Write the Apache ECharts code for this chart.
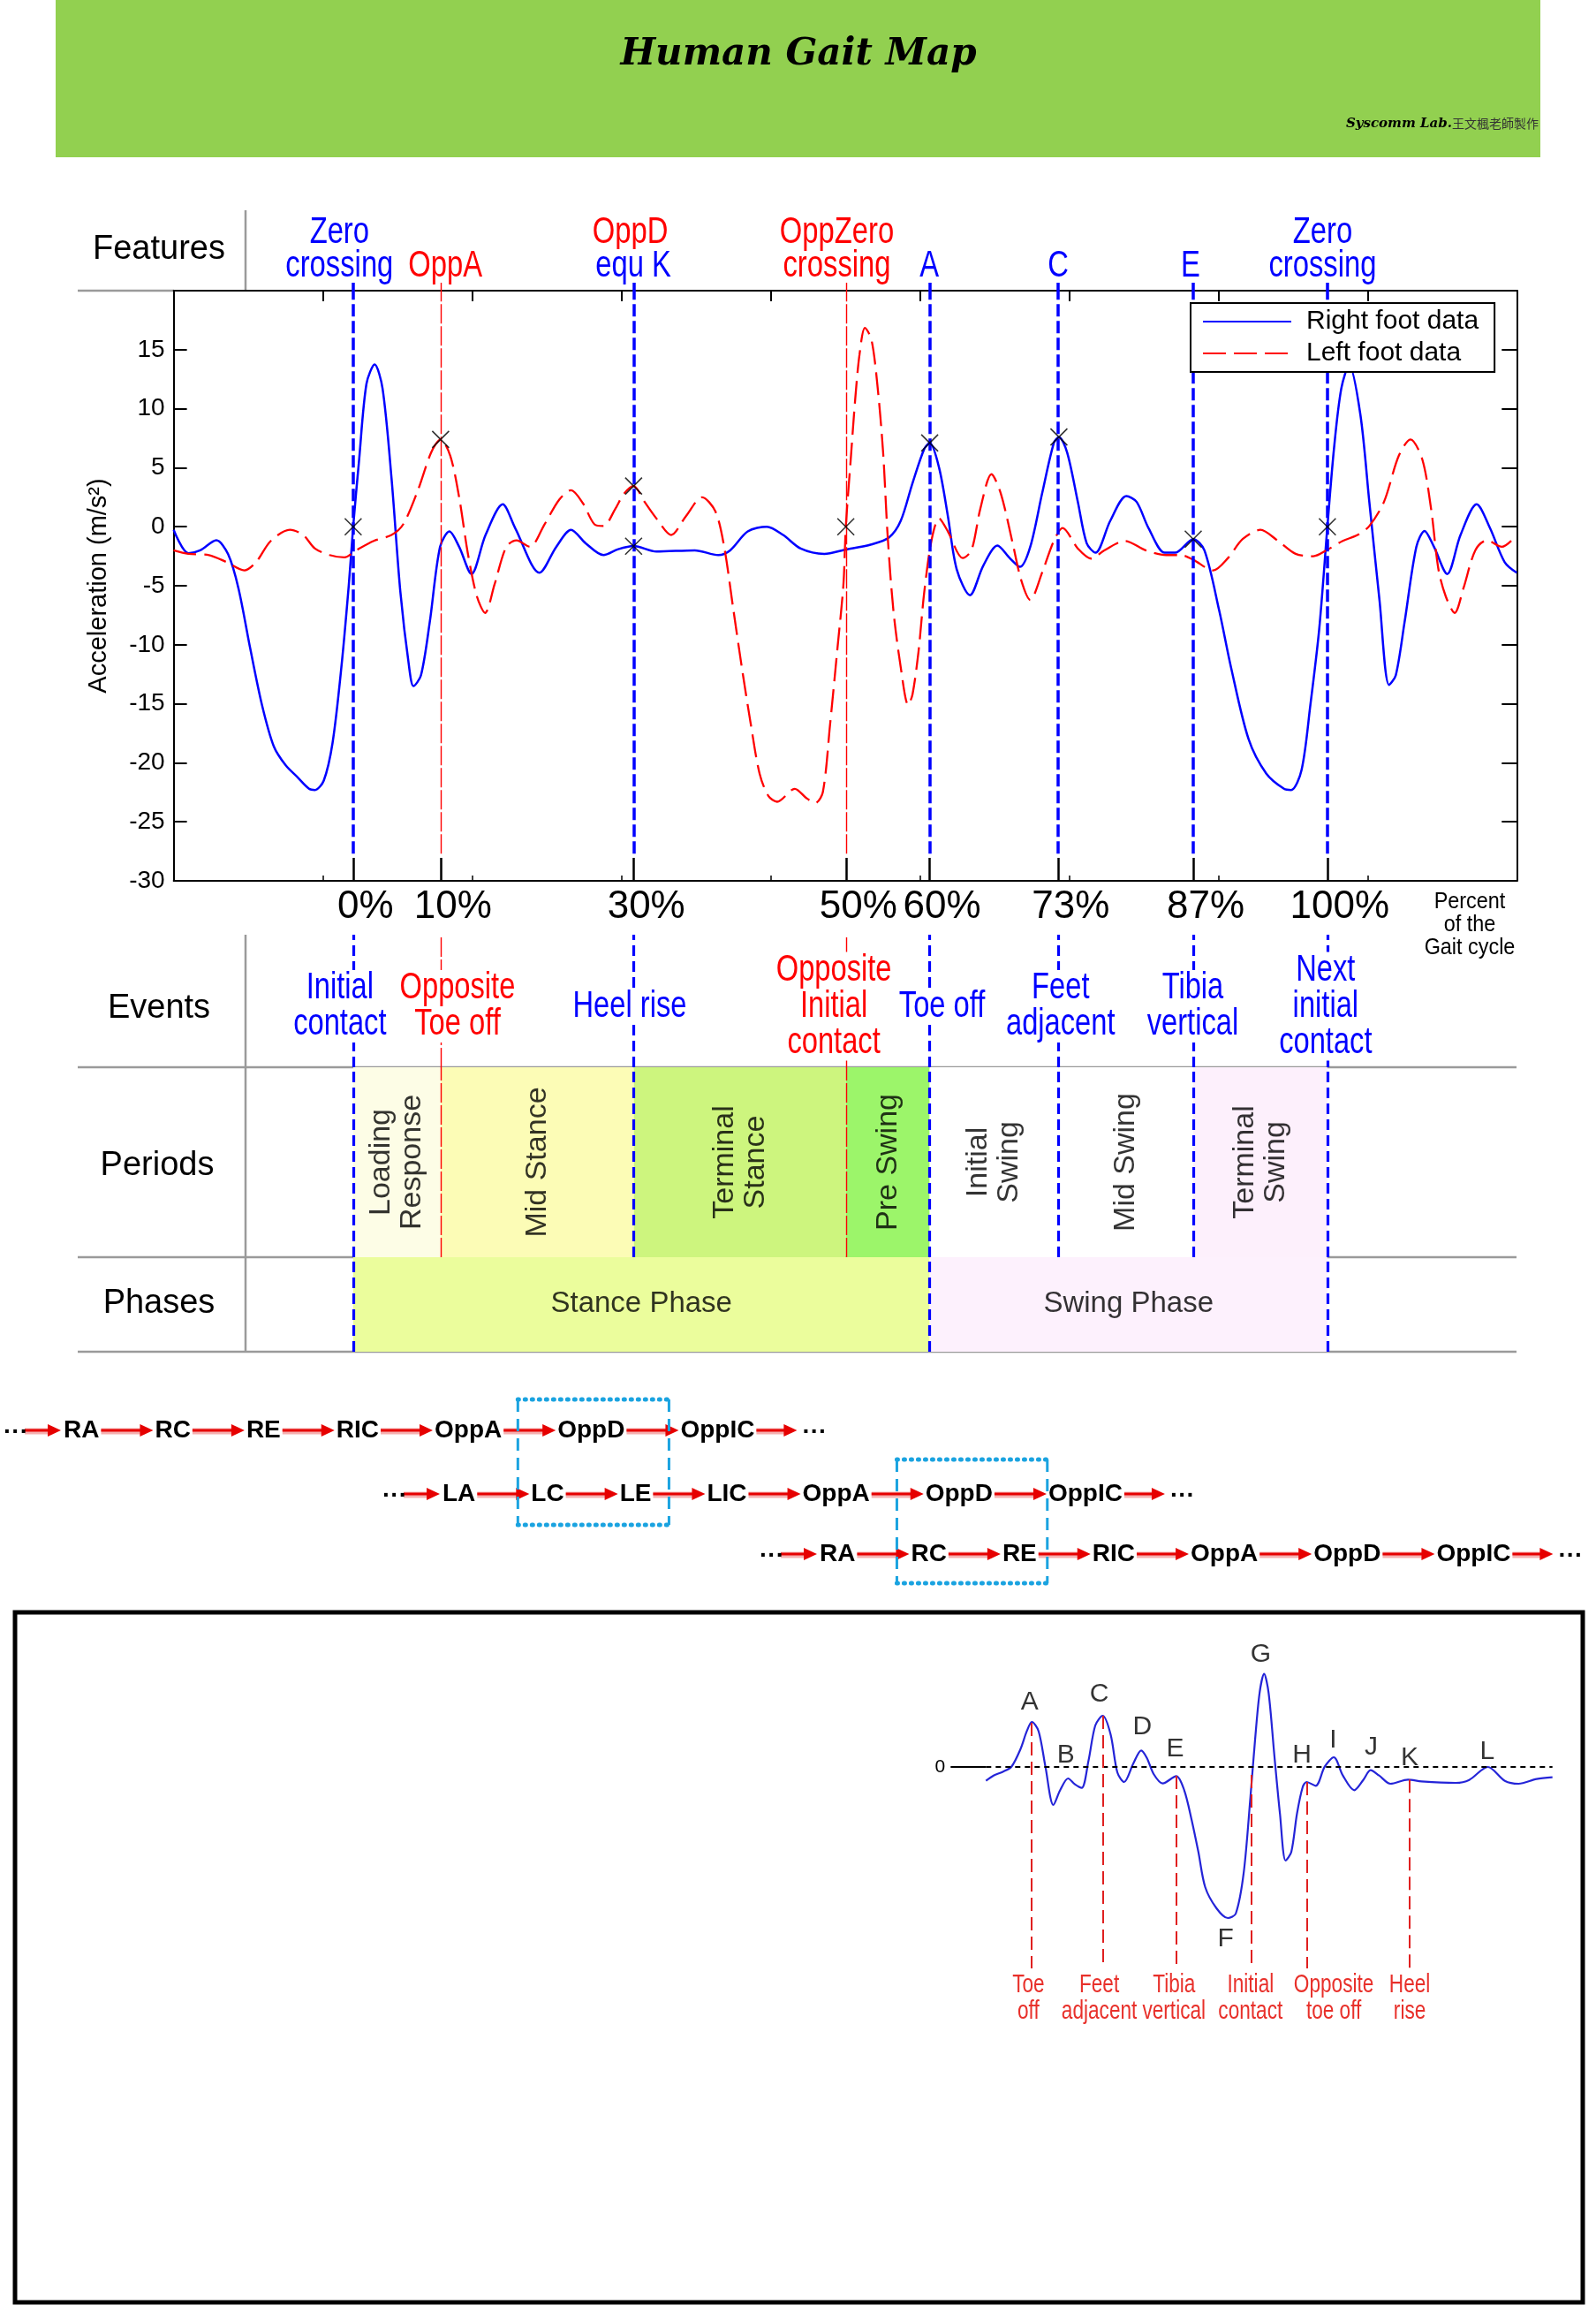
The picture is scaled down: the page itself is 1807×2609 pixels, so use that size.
<!DOCTYPE html>
<html><head><meta charset="utf-8">
<script src="https://cdn.jsdelivr.net/npm/echarts@6/dist/echarts.min.js"></script>
<style>html,body{margin:0;padding:0;background:#fff}#c{width:1807px;height:2609px}</style>
</head><body><div id="c"></div>
<script>
// ===================== DATA =====================
// Main plot: x = sample index (0..900), y = acceleration (m/s^2)
const rightFoot = [[0,-0.26],[9.9,-2.24],[17.8,-2.0],[28.6,-1.15],[36.5,-2.33],[43.4,-5.2],[51.3,-10.3],[59.2,-15.1],[67.1,-18.6],[75,-20.2],[82.8,-21.2],[90.7,-22.2],[94.7,-22.3],[100.6,-21.5],[106.5,-18.3],[112.4,-11.9],[117.4,-4.9],[120.3,0],[124.3,5.7],[129.2,12.1],[134.7,13.75],[140,11.7],[146,4.1],[151.9,-5.5],[157.8,-11.9],[160.7,-13.5],[165.7,-12.6],[171.6,-8.1],[178.5,-1.7],[184.8,-0.4],[191.3,-1.7],[199.6,-4.0],[209,-0.7],[220.5,1.9],[228.8,-0.1],[245.2,-3.9],[256.4,-1.7],[266.3,-0.26],[276.1,-1.4],[288,-2.4],[297.9,-1.9],[308.2,-1.63],[323.5,-2.1],[349.2,-2.0],[365,-2.4],[372.9,-2.0],[384.7,-0.4],[397.5,0],[408.4,-0.7],[420.2,-1.85],[436,-2.3],[449.8,-1.95],[467.5,-1.5],[479.4,-0.9],[487.2,0.5],[495.1,3.7],[503,6.6],[506.6,7.1],[512.9,5.0],[518.8,0.9],[524.7,-3.6],[533.6,-5.8],[542.5,-3.3],[552,-1.6],[560.2,-2.65],[567.1,-3.4],[574,-1.7],[581.9,2.8],[589.8,7.1],[593.2,7.6],[598.7,6.3],[605.9,2.1],[611.8,-1.4],[617.7,-2.2],[627.6,0.5],[638.4,2.6],[645.3,2.1],[653.2,-0.1],[664.1,-2.2],[671,-2.2],[683.2,-1.05],[690.7,-2.0],[700.6,-7.1],[708.5,-11.9],[720.3,-18.0],[732.1,-20.9],[744,-22.2],[748.9,-22.3],[755.8,-20.6],[761.7,-15.1],[767.6,-8.7],[773.1,0],[777.5,6.6],[782.4,11.7],[787.7,13.7],[795.2,9.5],[801.2,2.1],[808,-6.2],[814.4,-13.4],[818.9,-12.6],[824.8,-8.1],[832.7,-1.7],[838.2,-0.35],[844.5,-1.7],[853.4,-4.0],[862.3,-0.7],[873.1,1.9],[882,-0.1],[891.9,-3.0],[900,-3.9]];
const leftFoot = [[0,-2.0],[9.9,-2.3],[23.7,-2.4],[35.5,-3.0],[47.3,-3.7],[55.2,-3.0],[65.1,-1.2],[77.9,-0.26],[86.8,-0.7],[94.7,-1.85],[104.5,-2.4],[114.4,-2.6],[122.3,-2.0],[134.1,-1.2],[146,-0.7],[153.8,0.2],[163.7,3.1],[172.6,6.3],[178.9,7.4],[185.4,6.0],[191.3,2.5],[197.2,-2.3],[203.2,-5.9],[208.7,-7.3],[215,-4.9],[222.9,-1.7],[229.8,-1.15],[238.7,-1.7],[248.5,0.2],[258.4,2.3],[266.3,3.1],[274.2,2.0],[282,0.2],[288,0.06],[295.9,1.5],[301.8,2.8],[308.2,3.45],[315.6,2.1],[323.5,0.7],[333.4,-0.7],[343.3,0.9],[354.1,2.5],[363,1.3],[368.9,-1.7],[374.8,-6.8],[380.7,-11.9],[386.7,-16.7],[392.6,-20.9],[398.5,-22.8],[404.4,-23.3],[416.2,-22.2],[424.1,-23.0],[430,-23.4],[435,-22.5],[439.9,-16.7],[444.8,-10.3],[448.8,-4.9],[450.4,0],[453.7,5.7],[456.7,10.8],[459.6,14.6],[463.2,16.85],[467.5,15.9],[471.5,12.1],[475.4,6.3],[478.4,-0.7],[482.3,-7.1],[487.2,-11.9],[492.2,-15.1],[495.1,-14.2],[499.1,-10.6],[503,-5.5],[508,-1.05],[512.9,0.7],[518.8,-0.4],[528.7,-2.65],[534.6,-2.0],[540.5,1.5],[548,4.45],[554.3,2.8],[562.2,-1.4],[568.1,-4.6],[574,-6.2],[581.9,-3.9],[589.8,-1.2],[595.7,-0.1],[605.9,-1.85],[614.8,-2.7],[623.6,-2.0],[637.4,-1.2],[651.3,-2.0],[665.1,-2.4],[674.9,-2.4],[683.2,-2.8],[696.6,-3.7],[706.5,-2.65],[716.3,-1.05],[728.2,-0.26],[740,-1.2],[751.8,-2.3],[763.7,-2.5],[773.1,-1.95],[783.4,-1.2],[793.3,-0.7],[801.2,0.06],[811,2.1],[820.9,6.0],[828.8,7.4],[836.7,5.7],[842.6,1.5],[847.5,-3.6],[852.4,-5.9],[858.4,-7.3],[864.3,-5.2],[872.2,-2.0],[880,-1.15],[890,-1.7],[900,-0.7]];
const featurePoints = [[120.3,0],[178.9,7.4],[308.2,3.45],[308.2,-1.65],[450.4,0],[506.6,7.1],[593.2,7.6],[683.2,-1.05],[773.1,0]];

// Gait events (sample positions) and their percent labels
const eventX = [120.3,178.9,308.4,450.5,506.6,592.8,683.2,773.1];
const eventPercent = ['0%','10%','30%','50%','60%','73%','87%','100%'];
const eventFoot = ['R','L','R','L','R','R','R','R'];
const eventLabels = ['Initial\ncontact','Opposite\nToe off','Heel rise','Opposite\nInitial\ncontact','Toe off','Feet\nadjacent','Tibia\nvertical','Next\ninitial\ncontact'];
const eventLabelX = [111.4,190.2,305.6,442.4,514.9,594.3,682.9,771.9];
const phaseLineEvents = [0,4,7];

// Feature labels above the plot
const featureTexts = ['Zero\ncrossing','OppA','OppD','equ K','OppZero\ncrossing','A','C','E','Zero\ncrossing'];
const featureTextX = [111.1,182,306,308,444.4,506.4,592.7,681.4,769.9];
const featureTextFoot = ['R','L','L','R','L','R','R','R','R'];
const featureTextSlot = ['both','second','first','second','both','second','second','second','both'];

// Periods and phases (bounds are indices into eventX)
const periodNames = ['Loading\nResponse','Mid Stance','Terminal\nStance','Pre Swing','Initial\nSwing','Mid Swing','Terminal\nSwing'];
const periodBounds = [[0,1],[1,2],[2,3],[3,4],[4,5],[5,6],[6,7]];
const phaseNames = ['Stance Phase','Swing Phase'];
const phaseBounds = [[0,4],[4,7]];

// Event sequence diagram
const seqRows = [
  ['RA','RC','RE','RIC','OppA','OppD','OppIC'],
  ['LA','LC','LE','LIC','OppA','OppD','OppIC'],
  ['RA','RC','RE','RIC','OppA','OppD','OppIC']
];

// Detail curve (bottom panel): x = relative time 0..100, y = relative acceleration
const detailCurve = [[0,-1.57],[1.35,-0.97],[2.9,-0.57],[4.5,0.03],[6.1,2.03],[7.2,4.03],[8.1,5.1],[9.3,4.03],[10.5,0.03],[11.9,-4.3],[13.1,-2.63],[14.5,-1.3],[15.7,-1.97],[16.9,-2.37],[18.1,0.7],[19.3,4.7],[20.6,5.8],[22.0,3.7],[23.2,-0.63],[24.4,-1.7],[26.0,0.37],[27.4,1.87],[28.4,1.03],[29.6,-0.8],[31.2,-1.87],[33.6,-1.03],[35.0,-2.63],[36.3,-5.97],[37.5,-9.63],[38.7,-13.6],[40.7,-16.0],[42.7,-17.1],[44.1,-16.6],[45.5,-11.97],[46.7,-3.3],[47.5,3.03],[48.3,8.37],[49.1,10.53],[49.9,8.37],[50.9,1.37],[51.9,-5.3],[52.9,-10.6],[53.9,-9.63],[54.9,-5.3],[55.9,-2.3],[56.6,-1.7],[58.2,-2.13],[59.8,0.03],[61.4,1.1],[63.0,-0.97],[65.0,-2.63],[66.6,-1.47],[67.9,-0.37],[69.4,-0.97],[71.4,-1.9],[74.5,-1.43],[76.9,-1.63],[82.9,-1.8],[85.3,-1.47],[88.6,0.0],[91.6,-1.57],[94.0,-1.9],[97.2,-1.37],[100,-1.17]];
const detailLetters = ['A','B','C','D','E','F','G','H','I','J','K','L'];
const detailLetterPos = [[7.7,7.3],[14.1,1.3],[20.0,8.2],[27.6,4.5],[33.4,2.0],[42.3,-19.5],[48.5,12.7],[55.8,1.3],[61.3,3.0],[68.0,2.2],[74.8,1.0],[88.5,1.7]];
const detailEventNames = ['Toe\noff','Feet\nadjacent','Tibia\nvertical','Initial\ncontact','Opposite\ntoe off','Heel\nrise'];
const detailEventX = [8.0,20.6,33.6,46.9,56.6,74.8];
const detailEventFrom = [5.0,5.8,-1.0,-0.9,-1.7,-1.43];
const detailEventLabelX = [7.5,20.0,33.2,46.7,61.4,74.8];

// ===================== STYLE / LAYOUT =====================
const SANS = '"Liberation Sans",Arial,Helvetica,sans-serif';
const BLUE = '#0000ff', RED = '#ff0000';
const periodColors = ['#fdfde6','#fcfcb6','#cdf57e','#9cf56a','#ffffff','#ffffff','#fdf0fc'];
const phaseColors = ['#ebfd9c','#fdf1fd'];
const slotY = {first:0.725, both:0.516, second:0.308};
const GL = 196.6, GW = 1520.7;

const mainLineStyle = f => f === 'R' ? {color:BLUE,type:[14,5],width:3.5} : {color:RED,type:[22,3],width:1.4};
const tableLineStyle = f => f === 'R' ? {color:BLUE,type:[12,6],width:3.2} : {color:RED,type:[22,3],width:1.4};
const footColor = f => f === 'R' ? BLUE : RED;

function pctLabel(v){
  let best = 0, d = 1e9;
  eventX.forEach((x,i)=>{ if (Math.abs(x-v) < d){ d = Math.abs(x-v); best = i; } });
  return eventPercent[best];
}
function hx(gi,max){ return {gridIndex:gi,type:'value',min:0,max:max,show:false}; }
function hy(gi){ return {gridIndex:gi,type:'value',min:0,max:1,show:false}; }
const ML = {silent:true,symbol:['none','none'],label:{show:false},animation:false};
function textSeries(xi,yi,data,label){
  return {type:'scatter',xAxisIndex:xi,yAxisIndex:yi,symbol:'circle',symbolSize:1,silent:true,z:10,clip:false,
    itemStyle:{color:'rgba(0,0,0,0)'},
    label:Object.assign({show:true,position:'inside',formatter:p=>p.data.text},label),
    data:data};
}
// condensed text drawn by a custom series at data coordinates (narrow-font look via scaleX)
function condensedText(xi,yi,items,style,scaleX){
  return {type:'custom',xAxisIndex:xi,yAxisIndex:yi,silent:true,clip:false,z:10,
    data:items.map(it=>[it.x,it.y]),
    renderItem:(params,api)=>{
      const it = items[params.dataIndex];
      const p = api.coord([api.value(0),api.value(1)]);
      return {type:'text',x:p[0],y:p[1],scaleX:scaleX,
        style:Object.assign({text:it.text,fill:it.color||'#000',align:'center',verticalAlign:'middle'},style)};
    }};
}

// ===================== GRAPHICS (frame, headers, diagram) =====================
const g = [];
g.push({type:'rect',shape:{x:63,y:0,width:1681,height:178},style:{fill:'#92d050'},z:-10});
function txt(x,y,text,font,fill,align,extra){
  g.push({type:'text',x:x,y:y,z:20,style:Object.assign({text:text,font:font,fill:fill||'#000',
    align:align||'center',verticalAlign:'middle',textAlign:align||'center',textVerticalAlign:'middle'},extra||{})});
}
txt(904,62,'Human Gait Map','italic bold 42px "DejaVu Serif",serif','#000');
txt(1742,140,'王文楓老師製作','14px "Noto Sans CJK TC",sans-serif','#333','right');
txt(1644,140,'Syscomm Lab.','italic bold 15px "DejaVu Serif",serif','#000','right');
function gline(x1,y1,x2,y2,stroke,w){ g.push({type:'line',z:0,shape:{x1:x1,y1:y1,x2:x2,y2:y2},style:{stroke:stroke||'#9a9a9a',lineWidth:w||2.5}}); }
gline(88,329,197,329);
gline(278,238,278,329);
gline(88,1208,1717,1208); gline(88,1423,1717,1423); gline(88,1530,1717,1530);
gline(278,1058,278,1530);
txt(180,283,'Features','38px '+SANS);
txt(180,1142,'Events','38px '+SANS);
txt(178,1320,'Periods','38px '+SANS);
txt(180,1476,'Phases','38px '+SANS);
g.push({type:'text',x:1664,y:1047,z:20,scaleX:0.9,style:{text:'Percent\nof the\nGait cycle',font:'26px '+SANS,fill:'#000',
  align:'center',verticalAlign:'middle',textAlign:'center',textVerticalAlign:'middle',lineHeight:26}});

// sequence diagram layout computed from measured token widths
const mctx = document.createElement('canvas').getContext('2d');
const seqFont = 'bold 28px '+SANS;
mctx.font = seqFont;
const tw = t => mctx.measureText(t).width;
const seqStart = [{x:72,y:1619},{x:501,y:1691},{x:928,y:1759}];
const GAP = 63;
function arrow(x1,x2,y){
  g.push({type:'line',z:5,shape:{x1:x1,y1:y+1,x2:x2-10,y2:y+1},style:{stroke:'#f5b0b0',lineWidth:7}});
  g.push({type:'line',z:6,shape:{x1:x1,y1:y,x2:x2-10,y2:y},style:{stroke:'#e60000',lineWidth:3}});
  g.push({type:'polygon',z:6,shape:{points:[[x2-15,y-7],[x2,y],[x2-15,y+7]]},style:{fill:'#e60000'}});
}
const seqBoxes = [];
seqRows.forEach((row,ri)=>{
  const y = seqStart[ri].y;
  let x = seqStart[ri].x;
  const boxes = [];
  txt(x-68,y+2,'···',seqFont,'#000','left');
  arrow(x-44,x-3,y);
  row.forEach((t,i)=>{
    const w = tw(t);
    txt(x,y,t,seqFont,'#000','left');
    boxes.push({l:x,r:x+w});
    if (i < row.length-1){ arrow(x+w+2,x+w+GAP-2,y); }
    x += w + GAP;
  });
  const last = boxes[boxes.length-1];
  arrow(last.r+2,last.r+48,y);
  txt(last.r+54,y+2,'···',seqFont,'#000','left');
  seqBoxes.push(boxes);
});
function dottedBox(l,r,t,b){
  const c = '#1aa3e0';
  g.push({type:'line',z:7,shape:{x1:l,y1:t,x2:r,y2:t},style:{stroke:c,lineWidth:5,lineDash:[1,7],lineCap:'round'}});
  g.push({type:'line',z:7,shape:{x1:l,y1:b,x2:r,y2:b},style:{stroke:c,lineWidth:5,lineDash:[1,7],lineCap:'round'}});
  g.push({type:'line',z:7,shape:{x1:l,y1:t,x2:l,y2:b},style:{stroke:c,lineWidth:3,lineDash:[14,8]}});
  g.push({type:'line',z:7,shape:{x1:r,y1:t,x2:r,y2:b},style:{stroke:c,lineWidth:3,lineDash:[14,8]}});
}
dottedBox(seqBoxes[1][1].l-15, seqBoxes[1][2].r+20, seqStart[0].y-35, seqStart[1].y+35);
dottedBox(seqBoxes[2][1].l-16, seqBoxes[2][2].r+12, seqStart[1].y-39, seqStart[2].y+33);

// bottom panel border
g.push({type:'rect',z:0,shape:{x:17,y:1825,width:1775,height:781},style:{fill:'none',stroke:'#000',lineWidth:5}});

// ===================== SERIES =====================
const series = [];
series.push({name:'Right foot data',type:'line',xAxisIndex:0,yAxisIndex:0,data:rightFoot,smooth:0.3,symbol:'none',z:3,
  lineStyle:{color:BLUE,width:2.5},itemStyle:{color:BLUE}});
series.push({name:'Left foot data',type:'line',xAxisIndex:0,yAxisIndex:0,data:leftFoot,smooth:0.3,symbol:'none',z:3,
  lineStyle:{color:RED,width:2.3,type:[26,9]},itemStyle:{color:RED}});
series.push({type:'scatter',xAxisIndex:0,yAxisIndex:0,data:featurePoints,silent:true,z:6,
  symbol:'path://M0,0L20,20M20,0L0,20',symbolSize:19,
  itemStyle:{color:'rgba(0,0,0,0)',borderColor:'#000',borderWidth:1.6}});
// event lines in main plot
series.push({type:'line',xAxisIndex:0,yAxisIndex:0,data:[],z:4,
  markLine:Object.assign({},ML,{data:eventX.map((x,i)=>[{coord:[x,-27.7],lineStyle:mainLineStyle(eventFoot[i])},{coord:[x,20]}])})});
// features row
series.push({type:'line',xAxisIndex:3,yAxisIndex:2,data:[],z:2,
  markLine:Object.assign({},ML,{data:eventX.map((x,i)=>[{coord:[x,0],lineStyle:mainLineStyle(eventFoot[i])},{coord:[x,0.143]}])})});
series.push(condensedText(3,2,featureTexts.map((t,i)=>({x:featureTextX[i],y:slotY[featureTextSlot[i]],text:t,color:footColor(featureTextFoot[i])})),
  {font:'42px '+SANS,lineHeight:38,backgroundColor:'#fff',padding:[0,3]},0.78));
// events row
series.push({type:'line',xAxisIndex:4,yAxisIndex:3,data:[],z:2,
  markLine:Object.assign({},ML,{data:eventX.map((x,i)=>({xAxis:x,lineStyle:tableLineStyle(eventFoot[i])}))})});
series.push(condensedText(4,3,eventLabels.map((t,i)=>({x:eventLabelX[i],y:0.46,text:t,color:footColor(eventFoot[i])})),
  {font:'43px '+SANS,lineHeight:41,backgroundColor:'#fff',padding:[0,3]},0.76));
// periods row
series.push({type:'line',xAxisIndex:5,yAxisIndex:4,data:[],z:1,
  markArea:{silent:true,label:{show:false},data:periodBounds.map((b,i)=>[{xAxis:eventX[b[0]],itemStyle:{color:periodColors[i]}},{xAxis:eventX[b[1]]}])}});
series.push({type:'line',xAxisIndex:5,yAxisIndex:4,data:[],z:2,
  markLine:Object.assign({},ML,{data:eventX.map((x,i)=>({xAxis:x,lineStyle:tableLineStyle(eventFoot[i])}))})});
series.push(textSeries(5,4,periodNames.map((t,i)=>({value:[(eventX[periodBounds[i][0]]+eventX[periodBounds[i][1]])/2,0.5],text:t})),
  {fontSize:34,lineHeight:35,fontFamily:SANS,color:'#000',rotate:90}));
// phases row
series.push({type:'line',xAxisIndex:6,yAxisIndex:5,data:[],z:1,
  markArea:{silent:true,label:{show:false},data:phaseBounds.map((b,i)=>[{xAxis:eventX[b[0]],itemStyle:{color:phaseColors[i]}},{xAxis:eventX[b[1]]}])}});
series.push({type:'line',xAxisIndex:6,yAxisIndex:5,data:[],z:2,
  markLine:Object.assign({},ML,{data:phaseLineEvents.map(i=>({xAxis:eventX[i],lineStyle:tableLineStyle(eventFoot[i])}))})});
series.push(textSeries(6,5,phaseNames.map((t,i)=>({value:[(eventX[phaseBounds[i][0]]+eventX[phaseBounds[i][1]])/2,0.505],text:t})),
  {fontSize:33,fontFamily:SANS,color:'#000'}));
// detail panel
series.push({type:'line',xAxisIndex:7,yAxisIndex:6,data:detailCurve,smooth:0.3,symbol:'none',z:4,
  lineStyle:{color:'#2424d8',width:2.2}});
series.push({type:'line',xAxisIndex:7,yAxisIndex:6,data:[],z:2,
  markLine:Object.assign({},ML,{data:[{yAxis:0,lineStyle:{color:'#000',type:[6,5],width:2}}].concat(
    detailEventX.map((x,i)=>[{coord:[x,detailEventFrom[i]],lineStyle:{color:'#e02020',type:[15,7],width:2}},{coord:[x,-22.8]}]))})});
series.push(textSeries(7,6,detailLetters.map((t,i)=>({value:detailLetterPos[i],text:t})),{fontSize:30,fontFamily:SANS,color:'#000'}));
series.push(condensedText(7,6,detailEventNames.map((t,i)=>({x:detailEventLabelX[i],y:-26.2,text:t,color:'#e8302a'})),
  {font:'29px '+SANS,lineHeight:30},0.78));

const gridBase = {containLabel:false,outerBoundsMode:'none',show:false};
const option = {
  animation:false,
  backgroundColor:'#ffffff',
  textStyle:{fontFamily:SANS},
  grid:[
    Object.assign({left:GL,top:329,width:GW,height:668},gridBase),
    Object.assign({left:GL,top:238,width:GW,height:91},gridBase),
    Object.assign({left:GL,top:1058,width:GW,height:150},gridBase),
    Object.assign({left:GL,top:1208,width:GW,height:215},gridBase),
    Object.assign({left:GL,top:1423,width:GW,height:107},gridBase),
    Object.assign({left:1116.3,top:1850,width:641.4,height:450},gridBase)
  ],
  xAxis:[
    {gridIndex:0,type:'value',min:0,max:900,position:'bottom',
      axisLine:{show:true,onZero:false,lineStyle:{color:'#000',width:2}},
      axisTick:{show:true,customValues:eventX,inside:true,length:26,lineStyle:{color:'#000',width:2.5}},
      axisLabel:{show:true,customValues:eventX,formatter:v=>pctLabel(v),color:'#000',fontSize:44,fontFamily:SANS,margin:8,padding:[0,0,0,28]},
      splitLine:{show:false}},
    {gridIndex:0,type:'value',min:0,max:900,interval:100,position:'top',
      axisLine:{show:true,onZero:false,lineStyle:{color:'#000',width:2}},
      axisTick:{show:true,inside:true,length:12,lineStyle:{color:'#000',width:2}},
      axisLabel:{show:false},splitLine:{show:false}},
    {gridIndex:0,type:'value',min:0,max:900,interval:100,position:'bottom',offset:0,
      axisLine:{show:false,onZero:false},axisTick:{show:true,inside:true,length:6,lineStyle:{color:'#000',width:1.5}},
      axisLabel:{show:false},splitLine:{show:false}},
    hx(1,900),hx(2,900),hx(3,900),hx(4,900),hx(5,100)
  ],
  yAxis:[
    {gridIndex:0,type:'value',min:-30,max:20,interval:5,position:'left',
      axisLine:{show:true,onZero:false,lineStyle:{color:'#000',width:2}},
      axisTick:{show:true,inside:true,length:15,lineStyle:{color:'#000',width:2}},
      axisLabel:{formatter:v=>v===20?'':String(v),color:'#000',fontSize:28,fontFamily:SANS,margin:10},
      splitLine:{show:false},
      name:'Acceleration (m/s²)',nameLocation:'middle',nameGap:70,nameTextStyle:{color:'#000',fontSize:29,fontFamily:SANS}},
    {gridIndex:0,type:'value',min:-30,max:20,interval:5,position:'right',
      axisLine:{show:true,onZero:false,lineStyle:{color:'#000',width:2}},
      axisTick:{show:true,inside:true,length:17,lineStyle:{color:'#000',width:2}},
      axisLabel:{show:false},splitLine:{show:false}},
    hy(1),hy(2),hy(3),hy(4),
    {gridIndex:5,type:'value',min:-30,max:15,
      axisLine:{show:false},
      axisTick:{show:true,customValues:[0],length:40,lineStyle:{color:'#000',width:2}},
      axisLabel:{show:true,customValues:[0],margin:46,fontSize:21,color:'#000',fontFamily:SANS},
      splitLine:{show:false}}
  ],
  legend:{data:['Right foot data','Left foot data'],orient:'vertical',left:1348,top:343,
    backgroundColor:'#fff',borderColor:'#000',borderWidth:2,borderRadius:0,padding:[6,18,6,13],
    itemGap:6,itemWidth:100,itemHeight:14,selectedMode:false,z:20,
    itemStyle:{color:'rgba(0,0,0,0)',borderColor:'rgba(0,0,0,0)',borderWidth:0},
    textStyle:{fontSize:30,fontFamily:SANS,color:'#000',padding:[0,0,0,12]}},
  graphic:{elements:g},
  series:series
};
const chart = echarts.init(document.getElementById('c'),null,{renderer:'canvas',width:1807,height:2609});
chart.setOption(option);
</script>
</body></html>
